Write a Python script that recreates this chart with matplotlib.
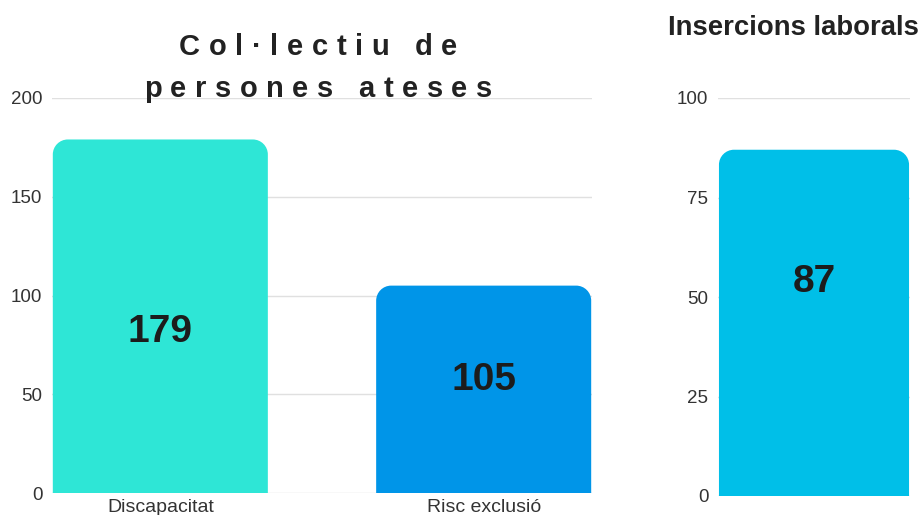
import matplotlib
matplotlib.use("Agg")
import matplotlib.pyplot as plt
from matplotlib import font_manager
from matplotlib.path import Path
from matplotlib.patches import PathPatch

# data
left_cats = ["Discapacitat", "Risc exclusió"]
left_vals = [179, 105]
left_label_y = [81.5, 57]
left_colors = ["#2EE6D6", "#0095E8"]
left_ticks = [0, 50, 100, 150, 200]
left_title = ["Col·lectiu de", "persones ateses"]

right_cats = [""]
right_vals = [87]
right_label_y = [53.8]
right_colors = ["#00BFE8"]
right_ticks = [0, 25, 50, 75, 100]
right_title = "Insercions laborals"


def pick_font(names):
    for n in names:
        try:
            font_manager.findfont(n, fallback_to_default=False)
            return n
        except Exception:
            pass
    return "DejaVu Sans"


base_font = pick_font(["Liberation Sans", "Arial"])
narrow_font = pick_font(["Liberation Sans Narrow", "Liberation Sans"])
plt.rcParams["font.family"] = base_font

W, H = 922, 515
fig = plt.figure(figsize=(W / 100, H / 100), dpi=100)
fig.patch.set_facecolor("white")

ax1 = fig.add_axes([52 / W, 22 / H, 540 / W, 395 / H])
ax2 = fig.add_axes([718 / W, 19 / H, 192 / W, 398 / H])


def rounded_bar(ax, x, h, w, color, r_px=15):
    p0 = ax.transData.transform((0, 0))
    p1 = ax.transData.transform((1, 1))
    rx = r_px / (p1[0] - p0[0])
    ry = r_px / (p1[1] - p0[1])
    k = 0.5523
    x0, x1 = x - w / 2, x + w / 2
    verts = [(x0, 0), (x0, h - ry),
             (x0, h - ry + k * ry), (x0 + rx - k * rx, h), (x0 + rx, h),
             (x1 - rx, h),
             (x1 - rx + k * rx, h), (x1, h - ry + k * ry), (x1, h - ry),
             (x1, 0), (x0, 0)]
    codes = [Path.MOVETO, Path.LINETO,
             Path.CURVE4, Path.CURVE4, Path.CURVE4,
             Path.LINETO,
             Path.CURVE4, Path.CURVE4, Path.CURVE4,
             Path.LINETO, Path.CLOSEPOLY]
    ax.add_patch(PathPatch(Path(verts, codes), facecolor=color,
                           edgecolor="none", zorder=3))


def setup(ax, ticks, xlim):
    ax.set_xlim(*xlim)
    ax.set_ylim(ticks[0], ticks[-1])
    ax.set_yticks(ticks)
    ax.set_yticklabels([str(t) for t in ticks])
    for s in ax.spines.values():
        s.set_visible(False)
    ax.tick_params(axis="y", length=0, pad=7, labelsize=13.5,
                   labelcolor="#333333")
    ax.tick_params(axis="x", length=0, pad=4, labelsize=13.5,
                   labelcolor="#333333")
    ax.grid(axis="y", color="#e0e0e0", linewidth=1, zorder=0)
    ax.set_axisbelow(True)


setup(ax1, left_ticks, (-0.335, 1.335))
setup(ax2, right_ticks, (-0.5, 0.5))
ax2.set_xticks([])

bar_w = 0.665
for i, (v, c, ly) in enumerate(zip(left_vals, left_colors, left_label_y)):
    rounded_bar(ax1, i, v, bar_w, c)
    ax1.text(i, ly, str(v), ha="center", va="center", fontsize=28,
             fontweight="bold", color="#1c1c1c", zorder=4)
ax1.set_xticks(range(len(left_cats)))
ax1.set_xticklabels(left_cats)
ax1.tick_params(axis="x", labelsize=14)

for i, (v, c, ly) in enumerate(zip(right_vals, right_colors, right_label_y)):
    rounded_bar(ax2, i, v, 0.99, c)
    ax2.text(i, ly, str(v), ha="center", va="center", fontsize=28,
             fontweight="bold", color="#1c1c1c", zorder=4)

# right title
fig.text(668 / W, 1 - 15 / H, right_title, ha="left", va="top",
         fontsize=19.8, fontweight="bold", color="#222222")

# left title with wide letter spacing
renderer = fig.canvas.get_renderer()
track = 8.6
title_kw = dict(fontsize=21, fontweight="bold", family=narrow_font,
                color="#222222")


def text_w(s):
    t = fig.text(0, 0, s, **title_kw)
    w = t.get_window_extent(renderer).width
    t.remove()
    return w


for line, base_y in zip(left_title, [55, 97]):
    lefts = []
    for i, ch in enumerate(line):
        lefts.append(text_w(line[:i + 1]) - text_w(ch) + i * track)
    total = lefts[-1] + text_w(line[-1])
    x0 = 318 - total / 2
    for ch, lx in zip(line, lefts):
        if ch == " ":
            continue
        fig.text((x0 + lx) / W, 1 - base_y / H, ch, ha="left",
                 va="baseline", **title_kw)

fig.savefig("out.png", dpi=100, facecolor="white")
